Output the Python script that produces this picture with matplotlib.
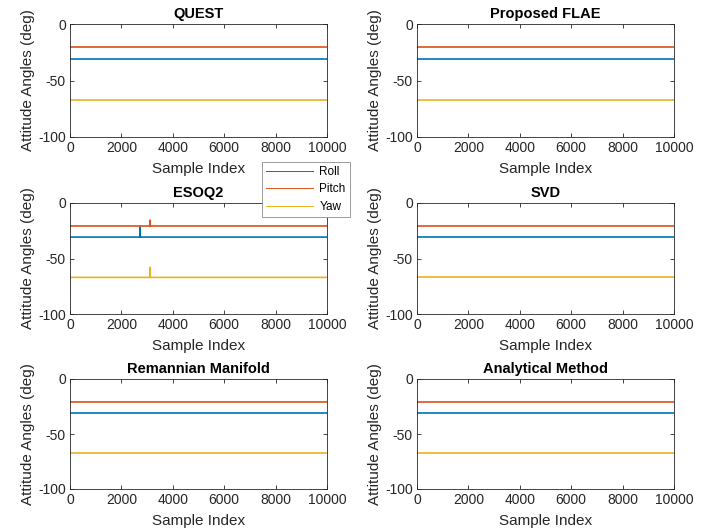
import matplotlib
matplotlib.use("Agg")
import matplotlib.pyplot as plt

plt.rcParams['font.family'] = ['Liberation Sans', 'DejaVu Sans']
plt.rcParams['axes.unicode_minus'] = False

methods = ["QUEST", "Proposed FLAE", "ESOQ2", "SVD",
           "Remannian Manifold", "Analytical Method"]
series_names = ["Roll", "Pitch", "Yaw"]

# steady levels (deg)
sample_index = [0, 10000]
roll_deg = [-30.7, -30.7]
pitch_deg = [-20.7, -20.7]
yaw_deg = [-67, -67]

# ESOQ2 shows single-sample glitches
esoq2_roll_idx = [0, 2730, 2731, 2732, 10000]
esoq2_roll_deg = [-30.7, -30.7, -21.5, -30.7, -30.7]
esoq2_pitch_idx = [0, 3120, 3121, 3122, 10000]
esoq2_pitch_deg = [-20.7, -20.7, -15.5, -20.7, -20.7]
esoq2_yaw_idx = [0, 3120, 3121, 3122, 10000]
esoq2_yaw_deg = [-67, -67, -58, -67, -67]

xticks = [0, 2000, 4000, 6000, 8000, 10000]
yticks = [-100, -50, 0]

colors = ["#0072BD", "#D95319", "#EDB120"]

W, H = 718, 531
fig = plt.figure(figsize=(W / 100, H / 100), dpi=100)

col_left = [70, 417]
col_width = 257
row_tb = [(24, 137), (203, 314), (379, 489)]

axes = []
for i, name in enumerate(methods):
    r, c = divmod(i, 2)
    top, bot = row_tb[r]
    ax = fig.add_axes([col_left[c] / W, 1 - bot / H, col_width / W, (bot - top) / H])
    axes.append(ax)
    if name == "ESOQ2":
        data = [(esoq2_roll_idx, esoq2_roll_deg),
                (esoq2_pitch_idx, esoq2_pitch_deg),
                (esoq2_yaw_idx, esoq2_yaw_deg)]
    else:
        data = [(sample_index, roll_deg), (sample_index, pitch_deg), (sample_index, yaw_deg)]
    for (xs, ys), col, lab in zip(data, colors, series_names):
        ax.plot(xs, ys, color=col, lw=1.2, label=lab)
    ax.set_xlim(0, 10000)
    ax.set_ylim(-100, 0)
    ax.set_xticks(xticks)
    ax.set_yticks(yticks)
    ax.tick_params(direction='in', top=True, right=True, labelsize=10,
                   color='#262626', labelcolor='#262626', length=3, width=0.6,
                   pad=3)
    for s in ax.spines.values():
        s.set_color('#262626')
        s.set_linewidth(0.6)
    ax.set_title(name, fontsize=10.5, fontweight='bold', pad=4)
    ax.set_xlabel("Sample Index", fontsize=11, color='#262626', labelpad=5)
    ax.set_ylabel("Attitude Angles (deg)", fontsize=11, color='#262626', labelpad=2)

handles = [plt.Line2D([], [], color=c, lw=0.7) for c in colors]
leg = fig.legend(handles, series_names, loc='upper left',
                 bbox_to_anchor=(262 / W, 1 - 162 / H), fontsize=8.5,
                 frameon=True, fancybox=False, edgecolor='#8a8a8a',
                 framealpha=1, handlelength=4.0, handletextpad=0.5,
                 borderpad=0.35, borderaxespad=0, labelspacing=0.45)
leg.get_frame().set_linewidth(0.6)

fig.savefig("out.png", dpi=100)
